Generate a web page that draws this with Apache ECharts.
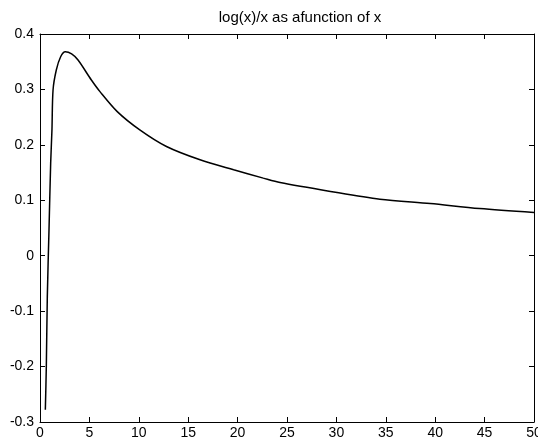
<!DOCTYPE html>
<html>
<head>
<meta charset="utf-8">
<script src="https://cdn.jsdelivr.net/npm/echarts@6/dist/echarts.min.js"></script>
<style>html,body{margin:0;padding:0;background:#fff}#c{width:538px;height:441px}</style>
</head>
<body>
<div id="c"></div>
<script>
var titleText = "log(x)/x as afunction of x";
var xValues = [0.54, 0.64, 0.74, 0.91, 1.08, 1.21, 1.32, 1.65, 2.09, 2.56, 3.2, 3.85, 5.2, 6.07, 7.82, 10.1, 12.8, 16.2, 19.6, 22.6, 24.3, 29.4, 34.4, 39.5, 44.5, 50];
var yValues = [-0.278, -0.2, -0.074, 0.046, 0.167, 0.227, 0.299, 0.335, 0.359, 0.368, 0.364, 0.353, 0.317, 0.296, 0.260, 0.227, 0.197, 0.173, 0.155, 0.140, 0.132, 0.116, 0.102, 0.094, 0.085, 0.078];
var xTicks = [0, 5, 10, 15, 20, 25, 30, 35, 40, 45, 50];
var yTicks = [-0.3, -0.2, -0.1, 0, 0.1, 0.2, 0.3, 0.4];

var chart = echarts.init(document.getElementById('c'), null, {renderer: 'canvas'});
var pts = xValues.map(function (x, i) { return [x, yValues[i]]; });
var font = 'Liberation Sans';
function xAx(pos, showLabel) {
  return {
    type: 'value', position: pos, min: xTicks[0], max: xTicks[xTicks.length - 1], interval: 5,
    axisLine: {show: true, onZero: false, lineStyle: {color: '#000', width: 1}},
    axisTick: {show: true, inside: true, length: 5, lineStyle: {color: '#000'}},
    axisLabel: {show: showLabel, color: '#000', fontFamily: font, fontSize: 14, margin: 4},
    splitLine: {show: false}
  };
}
function yAx(pos, showLabel) {
  return {
    type: 'value', position: pos, min: yTicks[0], max: yTicks[yTicks.length - 1], interval: 0.1,
    axisLine: {show: true, onZero: false, lineStyle: {color: '#000', width: 1}},
    axisTick: {show: true, inside: true, length: 5, lineStyle: {color: '#000'}},
    axisLabel: {show: showLabel, color: '#000', fontFamily: font, fontSize: 14, margin: 6,
      formatter: function (v) { return (Math.round(v * 10) / 10).toString(); }},
    splitLine: {show: false}
  };
}
chart.setOption({
  animation: false,
  backgroundColor: '#fff',
  title: {text: titleText, left: 295, top: 5, textAlign: 'center',
    textStyle: {fontFamily: font, fontSize: 15, fontWeight: 'normal', color: '#000'}},
  grid: {left: 40, right: 4, top: 34, bottom: 19, containLabel: false, outerBoundsMode: 'none'},
  xAxis: [xAx('bottom', true), xAx('top', false)],
  yAxis: [yAx('left', true), yAx('right', false)],
  series: [{
    type: 'line', data: pts, xAxisIndex: 0, yAxisIndex: 0, showSymbol: false, smooth: 0.3,
    lineStyle: {color: '#000', width: 1.5}
  }]
});
</script>
</body>
</html>
